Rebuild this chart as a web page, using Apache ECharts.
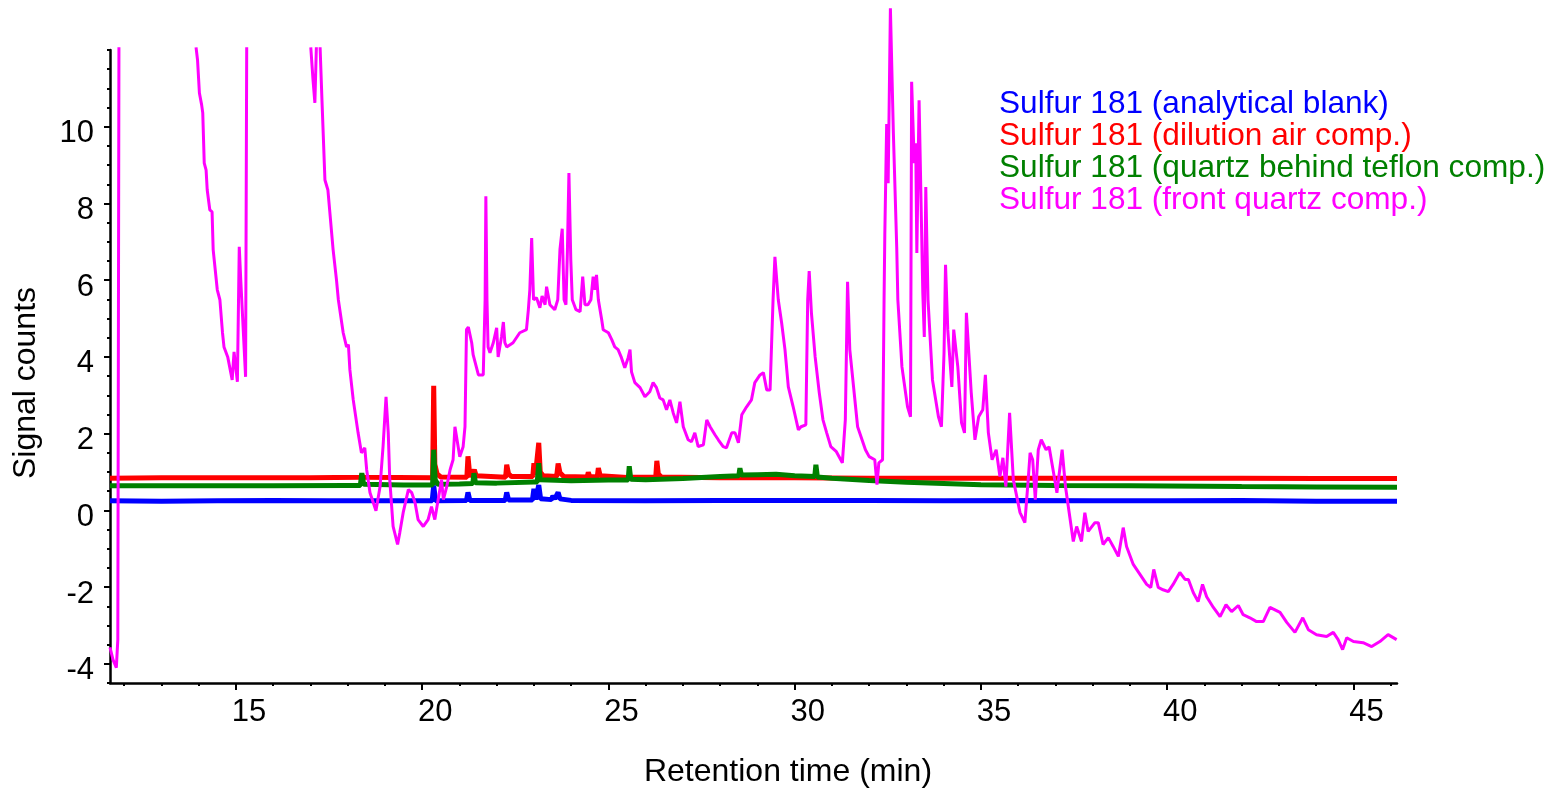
<!DOCTYPE html>
<html>
<head>
<meta charset="utf-8">
<script src="https://cdn.jsdelivr.net/npm/echarts@6/dist/echarts.min.js"></script>
<style>
html,body{margin:0;padding:0;background:#fff;}
#chart{width:1557px;height:788px;}
</style>
</head>
<body>
<div id="chart"></div>
<script>
// ---- data (retention time in min, signal counts) ----
const seriesNames = [
  'Sulfur 181 (analytical blank)',
  'Sulfur 181 (dilution air comp.)',
  'Sulfur 181 (quartz behind teflon comp.)',
  'Sulfur 181 (front quartz comp.)'
];
const seriesColors = ['#0000ff', '#ff0000', '#008000', '#ff00ff'];

const analyticalBlank = [
  [11.62,0.25],[13,0.24],[14.5,0.25],[16,0.26],[17.5,0.25],[19,0.25],[20.27,0.25],[20.31,0.65],[20.36,0.25],
  [21.19,0.26],[21.23,0.47],[21.28,0.26],[22.23,0.26],[22.27,0.47],[22.32,0.27],[22.96,0.27],[23.0,0.56],
  [23.05,0.28],[23.09,0.3],[23.13,0.66],[23.18,0.3],[23.47,0.28],[23.51,0.38],[23.56,0.3],[23.61,0.3],
  [23.65,0.47],[23.7,0.3],[24,0.26],[26,0.25],[28,0.26],[30,0.26],[32,0.26],[34,0.25],[36,0.26],
  [38,0.25],[40,0.25],[42,0.26],[44,0.24],[46.17,0.24]
];

const dilutionAir = [
  [11.62,0.84],[13,0.85],[15,0.85],[17,0.85],[18.35,0.86],[18.38,0.92],[18.42,0.86],[20.28,0.85],
  [20.31,3.25],[20.34,1.2],[20.40,0.95],[20.5,0.87],[21.2,0.86],[21.23,1.41],[21.27,1.0],[21.33,0.88],
  [21.37,0.88],[21.40,1.06],[21.45,0.9],[22.24,0.86],[22.27,1.19],[22.32,0.95],[22.4,0.88],[22.97,0.88],
  [23.0,1.23],[23.04,0.92],[23.09,0.9],[23.13,1.76],[23.17,1.0],[23.25,0.9],[23.61,0.88],[23.65,1.22],
  [23.7,0.98],[23.8,0.88],[24.43,0.87],[24.46,0.99],[24.5,0.88],[24.7,0.87],[24.73,1.1],[24.78,0.9],
  [25.5,0.86],[26.27,0.86],[26.30,1.29],[26.34,0.95],[26.42,0.87],[28,0.85],[30,0.85],[32,0.84],
  [34,0.84],[36,0.84],[38,0.84],[40,0.84],[42,0.84],[44,0.83],[46.17,0.83]
];

const quartzBehindTeflon = [
  [11.62,0.64],[14,0.64],[16,0.64],[18,0.65],[18.34,0.65],[18.38,0.97],[18.43,0.68],[19.5,0.66],
  [20.28,0.66],[20.31,1.58],[20.35,0.8],[20.42,0.68],[21,0.69],[21.36,0.7],[21.39,0.97],[21.43,0.72],
  [22,0.71],[23,0.74],[23.09,0.74],[23.13,1.23],[23.17,0.8],[24,0.77],[25,0.79],[25.53,0.79],
  [25.56,1.15],[25.6,0.81],[26,0.8],[27,0.83],[28,0.88],[28.5,0.9],[28.53,1.1],[28.57,0.92],
  [29,0.93],[29.5,0.94],[30,0.9],[30.54,0.88],[30.57,1.19],[30.61,0.87],[31,0.84],[32,0.78],
  [33,0.73],[34,0.7],[35,0.67],[37,0.65],[39,0.64],[42,0.62],[44,0.61],[46.17,0.6]
];

const frontQuartz = [
  [11.62,-3.57],[11.70,-3.89],[11.79,-4.10],[11.83,-3.37],[11.86,12.07],[12.9,null],
  [13.93,12.07],[13.97,11.74],[14.02,10.88],[14.08,10.57],[14.11,10.36],[14.15,9.05],[14.20,8.87],[14.23,8.35],
  [14.30,7.83],[14.36,7.78],[14.39,6.79],[14.50,5.75],[14.57,5.49],[14.64,4.63],[14.68,4.26],[14.78,4.00],
  [14.90,3.40],[14.95,4.13],[15.04,3.35],[15.09,6.87],[15.13,6.01],[15.26,3.48],[15.29,12.07],[16.1,null],
  [17.01,12.07],[17.07,11.22],[17.12,10.62],[17.16,12.07],[17.2,null],
  [17.26,12.07],[17.31,10.70],[17.39,8.61],[17.47,8.35],[17.61,6.79],[17.70,6.01],[17.75,5.49],[17.88,4.63],
  [17.97,4.26],[18.02,4.32],[18.06,3.66],[18.15,2.88],[18.28,2.02],[18.37,1.50],[18.46,1.63],[18.51,1.06],
  [18.60,0.46],[18.76,-0.01],[18.87,0.62],[18.95,1.66],[19.03,2.96],[19.09,2.02],[19.13,0.80],[19.22,-0.42],
  [19.34,-0.89],[19.40,-0.58],[19.49,-0.06],[19.63,0.54],[19.72,0.46],[19.81,0.20],[19.89,-0.24],[20.03,-0.42],
  [20.16,-0.24],[20.25,0.10],[20.34,-0.24],[20.43,0.28],[20.52,0.80],[20.57,0.28],[20.66,0.62],[20.75,1.06],
  [20.83,1.32],[20.88,2.18],[20.93,2.18],[21.01,1.40],[21.10,1.66],[21.15,2.18],[21.19,4.71],[21.24,4.78],
  [21.33,4.37],[21.37,4.05],[21.51,3.53],[21.64,3.53],[21.69,5.49],[21.71,8.19],[21.74,5.49],[21.77,4.26],
  [21.82,4.11],[21.91,4.37],[22.00,4.76],[22.04,4.00],[22.13,4.52],[22.18,4.91],[22.22,4.37],[22.27,4.26],
  [22.44,4.37],[22.62,4.63],[22.80,4.71],[22.85,5.22],[22.89,5.74],[22.94,7.10],[22.99,5.49],[23.07,5.54],
  [23.16,5.28],[23.22,5.59],[23.30,5.36],[23.34,5.83],[23.43,5.36],[23.56,5.23],[23.64,5.49],[23.70,6.81],
  [23.76,7.34],[23.81,5.49],[23.86,5.36],[23.90,6.79],[23.94,8.79],[23.99,6.53],[24.03,5.49],[24.13,5.23],
  [24.24,5.18],[24.31,6.09],[24.37,5.36],[24.45,5.36],[24.53,5.49],[24.59,6.09],[24.64,5.75],[24.68,6.14],
  [24.73,5.49],[24.82,4.97],[24.86,4.71],[25.00,4.63],[25.09,4.45],[25.17,4.26],[25.26,4.19],[25.35,3.98],
  [25.44,3.72],[25.53,3.98],[25.58,4.19],[25.62,3.61],[25.71,3.33],[25.85,3.20],[25.98,2.96],[26.11,3.09],
  [26.20,3.33],[26.29,3.20],[26.38,2.93],[26.47,2.88],[26.56,2.62],[26.65,2.88],[26.74,2.54],[26.83,2.28],
  [26.92,2.83],[27.01,2.18],[27.14,1.84],[27.23,1.79],[27.32,2.02],[27.41,1.66],[27.55,1.71],[27.64,2.36],
  [27.73,2.18],[27.86,1.97],[27.95,1.84],[28.08,1.66],[28.17,1.63],[28.31,2.02],[28.40,2.02],[28.49,1.76],
  [28.58,2.49],[28.71,2.70],[28.84,2.88],[28.93,3.33],[29.07,3.53],[29.16,3.59],[29.25,3.14],[29.34,3.14],
  [29.42,5.49],[29.47,6.61],[29.56,5.49],[29.65,4.89],[29.74,4.19],[29.83,3.22],[29.96,2.70],[30.10,2.10],
  [30.17,2.18],[30.30,2.23],[30.35,5.49],[30.39,6.24],[30.45,5.15],[30.55,4.00],[30.66,3.07],[30.76,2.36],
  [30.86,2.02],[30.97,1.66],[31.12,1.53],[31.28,1.24],[31.36,2.36],[31.42,5.96],[31.48,4.19],[31.69,2.18],
  [31.90,1.58],[32.00,1.40],[32.15,1.32],[32.21,0.67],[32.26,1.24],[32.36,1.32],[32.40,5.49],[32.42,7.18],
  [32.47,10.07],[32.51,8.53],[32.57,13.09],[32.65,9.83],[32.74,6.86],[32.77,5.49],[32.88,3.74],[33.03,2.70],
  [33.11,2.44],[33.14,11.17],[33.21,9.05],[33.25,9.57],[33.28,6.71],[33.34,10.69],[33.44,5.67],[33.48,4.52],
  [33.52,8.43],[33.58,5.49],[33.70,3.40],[33.86,2.44],[33.94,2.18],[34.01,4.11],[34.05,6.40],[34.11,4.71],
  [34.22,3.22],[34.27,4.71],[34.38,3.74],[34.48,2.28],[34.56,2.02],[34.61,5.15],[34.74,3.07],[34.84,1.84],
  [34.94,2.44],[35.05,2.62],[35.12,3.53],[35.20,2.02],[35.30,1.32],[35.41,1.58],[35.51,0.88],[35.59,1.37],
  [35.67,0.62],[35.77,2.54],[35.87,0.80],[36.05,-0.06],[36.18,-0.32],[36.27,0.80],[36.32,1.50],[36.39,1.32],
  [36.46,0.28],[36.54,1.58],[36.62,1.84],[36.75,1.58],[36.83,1.66],[36.95,0.98],[37.04,0.46],[37.18,1.58],
  [37.27,0.62],[37.37,-0.06],[37.48,-0.81],[37.57,-0.42],[37.70,-0.81],[37.79,-0.06],[37.88,-0.55],[38.06,-0.32],
  [38.15,-0.32],[38.28,-0.89],[38.42,-0.71],[38.55,-0.94],[38.69,-1.20],[38.82,-0.45],[38.91,-0.94],[39.09,-1.41],
  [39.27,-1.67],[39.45,-1.93],[39.56,-2.01],[39.64,-1.54],[39.76,-2.01],[39.89,-2.07],[40.03,-2.12],[40.16,-1.93],
  [40.34,-1.62],[40.48,-1.80],[40.57,-1.80],[40.70,-2.14],[40.83,-2.38],[40.95,-1.93],[41.06,-2.25],[41.24,-2.53],
  [41.42,-2.77],[41.58,-2.46],[41.73,-2.64],[41.91,-2.48],[42.04,-2.72],[42.22,-2.80],[42.40,-2.90],[42.58,-2.90],
  [42.76,-2.53],[43.03,-2.66],[43.21,-2.92],[43.43,-3.18],[43.64,-2.80],[43.79,-3.11],[44.01,-3.24],[44.28,-3.29],
  [44.46,-3.18],[44.59,-3.37],[44.71,-3.63],[44.82,-3.32],[45.00,-3.42],[45.26,-3.45],[45.49,-3.55],[45.71,-3.42],
  [45.93,-3.24],[46.16,-3.37]
];

// ---- axes ----
const xRange = [11.62, 46.17];
const yRange = [-4.5, 12];
const xMajorTicks = [15, 20, 25, 30, 35, 40, 45];
const xMinorTicks = [12,13,14,15,16,17,18,19,20,21,22,23,24,25,26,27,28,29,30,31,32,33,34,35,36,37,38,39,40,41,42,43,44,45,46];
const yMajorTicks = [-4, -2, 0, 2, 4, 6, 8, 10];
const yMinorStep = 0.5;
const xTitle = 'Retention time (min)';
const yTitle = 'Signal counts';

const FONT = '"Liberation Sans", Arial, Helvetica, sans-serif';
const chart = echarts.init(document.getElementById('chart'), null, {renderer: 'canvas'});

const lineData = [analyticalBlank, dilutionAir, quartzBehindTeflon, frontQuartz];
const series = lineData.map((d, i) => ({
  name: seriesNames[i],
  type: 'line',
  xAxisIndex: 0,
  yAxisIndex: 0,
  data: d,
  showSymbol: false,
  symbol: 'none',
  connectNulls: false,
  clip: i !== 3,
  lineStyle: {color: seriesColors[i], width: i === 3 ? 3 : 5},
  itemStyle: {color: seriesColors[i]},
  emphasis: {disabled: true},
  z: 2 + i
}));

const option = {
  animation: false,
  backgroundColor: '#ffffff',
  grid: {left: 110, right: 160, top: 50, bottom: 105, containLabel: false},
  legend: {
    orient: 'vertical',
    left: 988,
    top: 83,
    itemWidth: 0,
    itemHeight: 0,
    itemGap: 0,
    selectedMode: false,
    data: seriesNames.map((n, i) => ({name: n, textStyle: {color: seriesColors[i]}})),
    textStyle: {fontSize: 31.6, fontFamily: FONT}
  },
  xAxis: [
    {
      type: 'value', position: 'bottom', min: xRange[0], max: xRange[1],
      axisLine: {show: true, onZero: false, lineStyle: {color: '#000', width: 2.5}},
      axisTick: {show: true, customValues: xMinorTicks, length: 3, lineStyle: {color: '#000', width: 2}},
      axisLabel: {show: false},
      splitLine: {show: false}
    },
    {
      type: 'value', position: 'bottom', min: xRange[0], max: xRange[1],
      axisLine: {show: false, onZero: false},
      axisTick: {show: true, customValues: xMajorTicks, length: 7, lineStyle: {color: '#000', width: 2}},
      axisLabel: {show: true, customValues: xMajorTicks, fontSize: 31, fontFamily: FONT, color: '#000',
                  margin: 14, padding: [0, 0, 0, 26]},
      splitLine: {show: false}
    }
  ],
  yAxis: [
    {
      type: 'value', position: 'left', min: yRange[0], max: yRange[1], interval: yMinorStep,
      axisLine: {show: true, onZero: false, lineStyle: {color: '#000', width: 2.5}},
      axisTick: {show: true, length: 3, lineStyle: {color: '#000', width: 2}},
      axisLabel: {show: false},
      splitLine: {show: false}
    },
    {
      type: 'value', position: 'left', min: yRange[0], max: yRange[1],
      axisLine: {show: false, onZero: false},
      axisTick: {show: true, customValues: yMajorTicks, length: 6, lineStyle: {color: '#000', width: 2}},
      axisLabel: {show: true, customValues: yMajorTicks, fontSize: 31, fontFamily: FONT, color: '#000',
                  margin: 16, verticalAlign: 'top', lineHeight: 14},
      splitLine: {show: false}
    }
  ],
  graphic: [
    {
      type: 'text', x: 26, y: 383, rotation: Math.PI / 2,
      style: {text: yTitle, fontSize: 32, fontFamily: FONT, fill: '#000', align: 'center', verticalAlign: 'middle'}
    },
    {
      type: 'text', x: 788, y: 772,
      style: {text: xTitle, fontSize: 32, fontFamily: FONT, fill: '#000', align: 'center', verticalAlign: 'middle'}
    }
  ],
  series: series
};
chart.setOption(option);
</script>
</body>
</html>
